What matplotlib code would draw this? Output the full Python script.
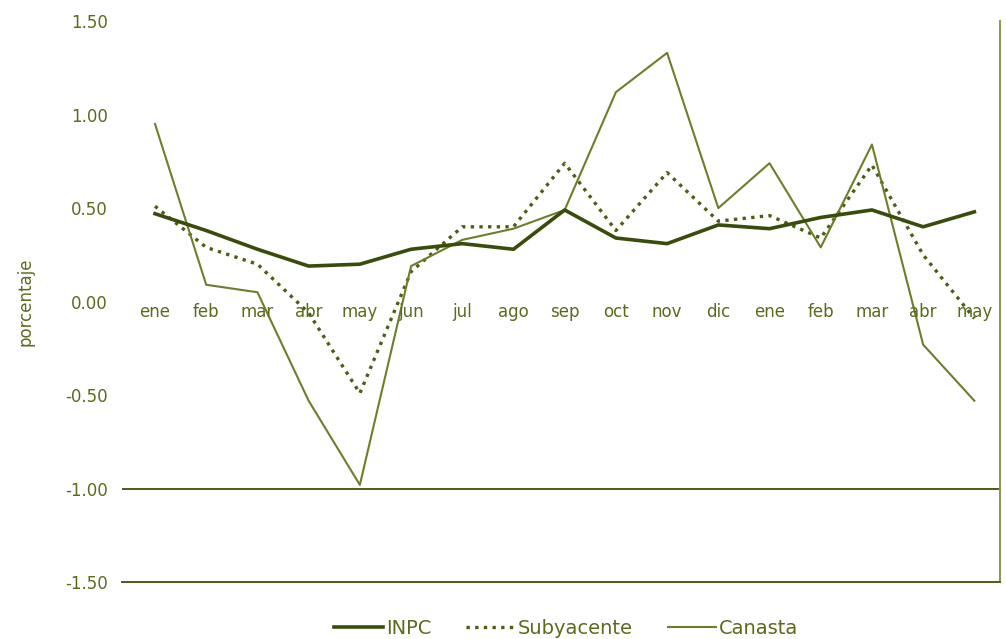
import matplotlib
matplotlib.use("Agg")
import matplotlib.pyplot as plt

meses = ["ene", "feb", "mar", "abr", "may", "jun", "jul", "ago", "sep",
         "oct", "nov", "dic", "ene", "feb", "mar", "abr", "may"]
inpc = [0.47, 0.38, 0.28, 0.19, 0.20, 0.28, 0.31, 0.28, 0.49,
        0.34, 0.31, 0.41, 0.39, 0.45, 0.49, 0.40, 0.48]
subyacente = [0.51, 0.29, 0.20, -0.06, -0.49, 0.16, 0.40, 0.40, 0.74,
              0.38, 0.69, 0.43, 0.46, 0.34, 0.73, 0.25, -0.09]
canasta = [0.95, 0.09, 0.05, -0.53, -0.98, 0.19, 0.33, 0.39, 0.49,
           1.12, 1.33, 0.50, 0.74, 0.29, 0.84, -0.23, -0.53]
yticks = [1.5, 1.0, 0.5, 0.0, -0.5, -1.0, -1.5]

plt.rcParams["font.family"] = ["DejaVu Sans"]
verde = "#4b5e14"
verde_osc = "#3a4c0c"
verde_cl = "#6c7e2c"
texto = "#5b6b1e"

fig = plt.figure(figsize=(10.06, 6.39), dpi=100)
ax = fig.add_axes([0.121, 0.089, 0.873, 0.878])
x = list(range(len(meses)))

ax.plot(x, inpc, color=verde_osc, lw=2.6, label="INPC", zorder=3)
ax.plot(x, subyacente, color=verde, lw=2.4, ls=(0, (1, 1.6)), label="Subyacente", zorder=2)
ax.plot(x, canasta, color=verde_cl, lw=1.5, label="Canasta", zorder=2)

ax.set_xlim(-0.65, 16.5)
ax.set_ylim(-1.5, 1.5)
ax.set_yticks(yticks)
ax.set_yticklabels([f"{v:.2f}" for v in yticks], color=texto, fontsize=12)
ax.tick_params(axis="y", length=0, pad=10)
ax.set_xticks([])

# month names sit just under the zero line
for xi, m in zip(x, meses):
    ax.text(xi, -0.055, m, ha="center", va="center", color=texto, fontsize=12)

ax.axhline(-1.0, color=verde, lw=1.4, zorder=1)
for s in ("top", "left"):
    ax.spines[s].set_visible(False)
ax.spines["right"].set_color("#8a9550")
ax.spines["right"].set_linewidth(1.4)
ax.spines["bottom"].set_color(verde)
ax.spines["bottom"].set_linewidth(1.4)

ax.set_ylabel("porcentaje", color=texto, fontsize=12, labelpad=22)

leg = fig.legend(loc="lower center", bbox_to_anchor=(0.563, -0.026), ncol=3,
                 frameon=False, fontsize=14, handlelength=2.5,
                 columnspacing=1.8, handletextpad=0.15)
for t in leg.get_texts():
    t.set_color(texto)

fig.savefig("out.png", dpi=100, facecolor="white")
